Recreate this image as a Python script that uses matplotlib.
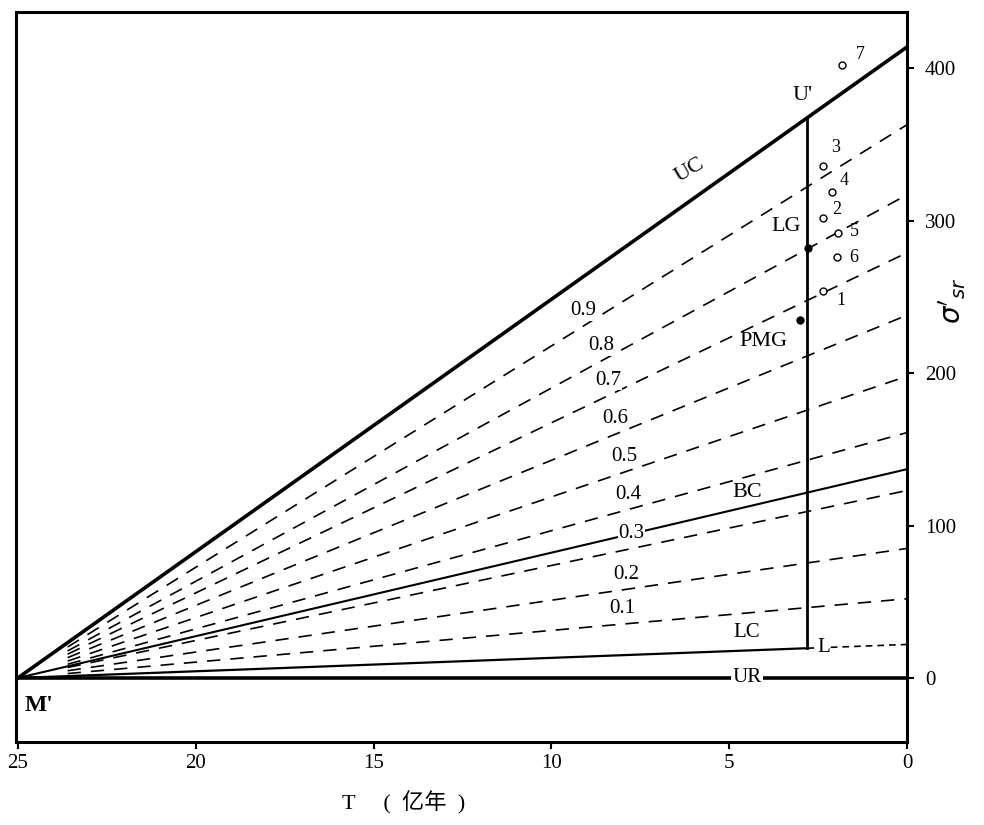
import numpy as np
import matplotlib
matplotlib.use("Agg")
import matplotlib.pyplot as plt

plt.rcParams['font.family'] = ['Liberation Serif', 'Noto Sans CJK SC']

# end points of the lines at T = 0 (all lines start from M' at T = 25, value 0)
T_M = 25.0
uc_end = 414
bc_end = 137
lc_end = 22
frac_labels = ["0.1", "0.2", "0.3", "0.4", "0.5", "0.6", "0.7", "0.8", "0.9"]
frac_end = [52, 85, 123, 161, 198, 238, 279, 317, 363]
frac_label_T = [8.0, 7.9, 7.75, 7.85, 7.95, 8.2, 8.4, 8.6, 9.1]

# vertical section through the present-day samples
T_sec = 2.8

# named points
lg_T, lg_val = 2.79, 282
pmg_T, pmg_val = 3.01, 235

# open-circle samples
sample_ids = ["1", "2", "3", "4", "5", "6", "7"]
sample_T = [2.37, 2.37, 2.37, 2.11, 1.94, 1.97, 1.83]
sample_val = [254, 302, 336, 319, 292, 276, 402]
sample_off = [(13, -7), (10, 6), (9, 13), (9, 8), (12, 1), (12, 0), (13, 8)]

xticks = [25, 20, 15, 10, 5, 0]
yticks = [0, 100, 200, 300, 400]


def line_val(end, T):
    return end * (T_M - np.asarray(T)) / T_M


fig = plt.figure(figsize=(9.84, 8.25), dpi=100)
ax = fig.add_axes([0.0163, 0.1006, 0.9055, 0.885])

# fraction lines
Tf = np.array([23.6, 0.0])
for lab, end, lt in zip(frac_labels, frac_end, frac_label_T):
    ax.plot(Tf, line_val(end, Tf), color='black', lw=1.2, ls=(0, (8, 6)))
    ax.text(lt, line_val(end, lt) + 10, lab, fontsize=15, ha='center', va='center',
            bbox=dict(facecolor='white', edgecolor='none', pad=0.3))

Tall = np.array([T_M, 0.0])
# UC
ax.plot(Tall, line_val(uc_end, Tall), color='black', lw=2.6)
# BC
ax.plot(Tall, line_val(bc_end, Tall), color='black', lw=1.5)
# LC: solid to L, then dashed to the axis
ax.plot([T_M, T_sec], line_val(lc_end, [T_M, T_sec]), color='black', lw=1.6)
ax.plot([T_sec, 0], line_val(lc_end, [T_sec, 0]), color='black', lw=1.2, ls=(0, (4, 3)))
# UR
ax.plot(Tall, [0, 0], color='black', lw=2.6)

# vertical section U'-L
ax.plot([T_sec, T_sec], [line_val(lc_end, T_sec), line_val(uc_end, T_sec)],
        color='black', lw=2.0)

ax.plot([lg_T], [lg_val], 'o', color='black', ms=5)
ax.plot([pmg_T], [pmg_val], 'o', color='black', ms=5)

for sid, st, sv, off in zip(sample_ids, sample_T, sample_val, sample_off):
    ax.plot([st], [sv], 'o', mfc='white', mec='black', mew=1.0, ms=5)
    ax.annotate(sid, (st, sv), xytext=off, textcoords='offset points',
                fontsize=13, ha='center', va='center')

# curve and point labels
ax.text(6.1, 333, "UC", fontsize=16, rotation=30, ha='center', va='center')
ax.text(4.5, 122, "BC", fontsize=16, ha='center', va='center')
ax.text(4.5, 30, "LC", fontsize=15, ha='center', va='center')
ax.text(4.5, 0, "UR", fontsize=15, ha='center', va='center',
        bbox=dict(facecolor='white', edgecolor='none', pad=1))
ax.text(2.35, 20, "L", fontsize=15, ha='center', va='center',
        bbox=dict(facecolor='white', edgecolor='none', pad=0.5))
ax.text(2.95, 382, "U'", fontsize=16, ha='center', va='center')
ax.text(3.4, 296, "LG", fontsize=16, ha='center', va='center')
ax.text(4.05, 221, "PMG", fontsize=16, ha='center', va='center')
ax.text(24.4, -18, "M'", fontsize=17, fontweight='bold', ha='center', va='center')

ax.set_xlim(25.05, 0)
ax.set_ylim(-42, 437)
ax.set_xticks(xticks)
ax.set_xticklabels([str(v) for v in xticks], fontsize=15)
ax.yaxis.tick_right()
ax.set_yticks(yticks)
ax.set_yticklabels([str(v) for v in yticks], fontsize=15)
ax.tick_params(axis='both', direction='out', length=5, width=1.5)
ax.tick_params(axis='y', pad=8)
for sp in ax.spines.values():
    sp.set_linewidth(2.2)

fig.text(0.410, 0.027, "T     (  亿年  )", fontsize=16, ha='center', va='center')
fig.text(0.968, 0.636, r"$\sigma'_{sr}$", fontsize=20, rotation=90,
         ha='center', va='center')

fig.savefig("out.png", dpi=100)
